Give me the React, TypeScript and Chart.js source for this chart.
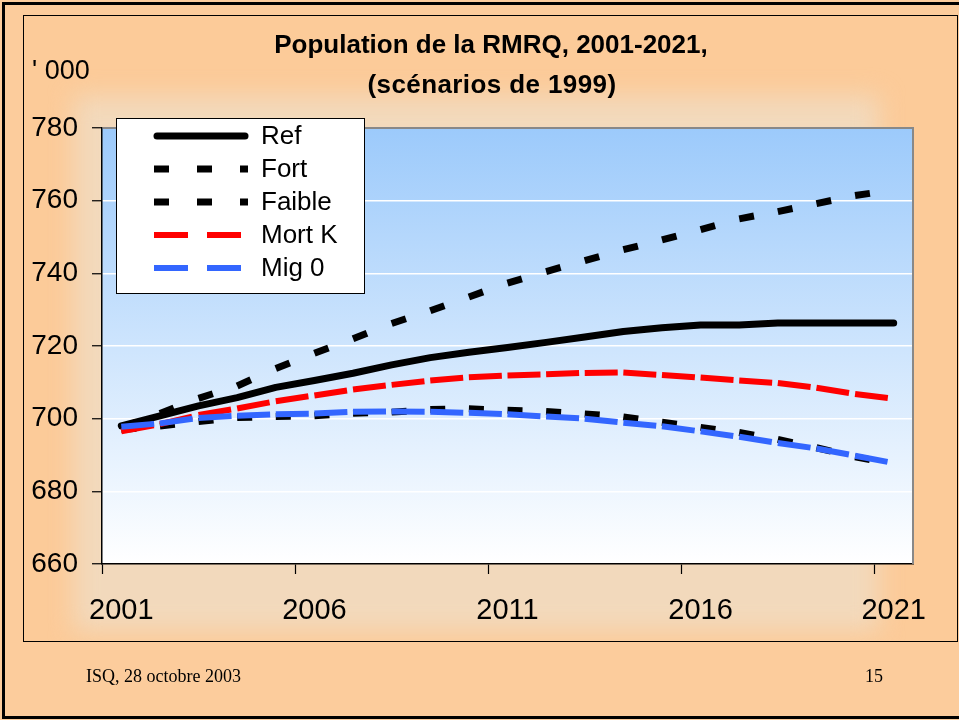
import React, { useEffect, useRef } from 'react';
import { Chart, registerables } from 'chart.js';

Chart.register(...registerables);

// ---------- data ----------
const years = [
  '2001', '2002', '2003', '2004', '2005', '2006', '2007', '2008', '2009', '2010', '2011',
  '2012', '2013', '2014', '2015', '2016', '2017', '2018', '2019', '2020', '2021',
];
const refValues = [698, 700.8, 703.5, 705.8, 708.6, 710.5, 712.5, 714.8, 716.8, 718.3, 719.6, 721, 722.5, 724, 725, 725.8, 725.8, 726.3, 726.3, 726.3, 726.3];
const fortValues = [697.5, 701.4, 705.6, 709.0, 713.8, 718.0, 722.0, 726.2, 729.7, 733.5, 737.3, 740.5, 743.5, 746.5, 749.2, 752.0, 755.0, 757.0, 759.2, 761.4, 763.0];
const faibleValues = [697.0, 698.0, 699.2, 700.3, 700.6, 700.8, 701.5, 701.8, 702.5, 702.7, 702.3, 702.0, 701.3, 700.5, 699.0, 697.6, 696.2, 694.3, 692.0, 689.5, 687.5];
const mortKValues = [696.5, 698.5, 701.0, 702.8, 704.8, 706.4, 708.0, 709.3, 710.5, 711.4, 711.9, 712.2, 712.6, 712.7, 712.0, 711.3, 710.5, 709.8, 708.5, 706.8, 705.5];
const mig0Values = [697.8, 698.7, 700.2, 700.8, 701.2, 701.4, 701.9, 702.0, 701.9, 701.6, 701.2, 700.6, 700.0, 698.9, 697.9, 696.5, 695.0, 693.3, 691.8, 689.8, 687.8];
const yMin = 660;
const yMax = 780;
const yStep = 20;
const xLabelEvery = 5;

const titleLines = ['Population de la RMRQ, 2001-2021,', '(scénarios de 1999)'];
const unitLabel = "' 000";
const footerLeft = 'ISQ, 28 octobre 2003';
const footerRight = '15';

const SANS = '"Liberation Sans", Arial, Helvetica, sans-serif';
const SERIF = '"Liberation Serif", "Times New Roman", Times, serif';

// each segment is stroked separately so the dash restarts at every point (as in Excel)
const perSegment = {
  borderDashOffset: (c: any) => (c.p0DataIndex % 2 ? 0 : 0.001),
};

const plotBackground = {
  id: 'plotBackground',
  beforeDraw(chart: any) {
    const { ctx, chartArea: a } = chart;
    const g = ctx.createLinearGradient(0, a.top, 0, a.bottom);
    g.addColorStop(0, '#9CCAFB');
    g.addColorStop(1, '#FFFFFF');
    ctx.save();
    ctx.fillStyle = g;
    ctx.fillRect(a.left, a.top, a.right - a.left, a.bottom - a.top);
    ctx.restore();
  },
  beforeDatasetsDraw(chart: any) {
    const { ctx, chartArea: a } = chart;
    ctx.save();
    ctx.strokeStyle = '#888888';
    ctx.lineWidth = 2;
    ctx.beginPath();
    ctx.moveTo(a.left + 1, a.top);
    ctx.lineTo(a.right, a.top);
    ctx.lineTo(a.right, a.bottom);
    ctx.stroke();
    ctx.restore();
  },
};

const boxLegend = {
  id: 'boxLegend',
  afterDraw(chart: any) {
    const { ctx } = chart;
    const x0 = 116.5;
    const y0 = 118.5;
    const w = 248;
    const h = 175;
    ctx.save();
    ctx.fillStyle = '#FFFFFF';
    ctx.fillRect(x0, y0, w, h);
    ctx.strokeStyle = '#000000';
    ctx.lineWidth = 1;
    ctx.strokeRect(x0, y0, w, h);
    chart.data.datasets.forEach((ds: any, i: number) => {
      const y = 136 + i * 33;
      ctx.save();
      ctx.strokeStyle = ds.borderColor;
      ctx.lineWidth = ds.legendWidth;
      ctx.lineCap = ds.legendDash.length ? 'butt' : 'round';
      ctx.setLineDash(ds.legendDash);
      ctx.beginPath();
      if (ds.legendDash.length) {
        ctx.moveTo(154, y);
        ctx.lineTo(248, y);
      } else {
        ctx.moveTo(157, y);
        ctx.lineTo(245, y);
      }
      ctx.stroke();
      ctx.restore();
      ctx.fillStyle = '#000000';
      ctx.font = `26px ${SANS}`;
      ctx.textBaseline = 'middle';
      ctx.textAlign = 'left';
      ctx.fillText(ds.label, 261, y + 1);
    });
    ctx.restore();
  },
};

export default function App() {
  const canvasRef = useRef<HTMLCanvasElement>(null);

  useEffect(() => {
    const canvas = canvasRef.current;
    if (!canvas) return;
    const chart = new Chart(canvas, {
      type: 'line',
      data: {
        labels: years,
        datasets: [
          {
            label: 'Ref',
            data: refValues,
            borderColor: '#000000',
            borderWidth: 7,
            borderCapStyle: 'round',
            borderJoinStyle: 'round',
            order: 5,
            legendDash: [],
            legendWidth: 7,
          } as any,
          {
            label: 'Fort',
            data: fortValues,
            borderColor: '#000000',
            borderWidth: 7,
            borderDash: [15, 60],
            segment: perSegment,
            order: 4,
            legendDash: [15, 28],
            legendWidth: 7,
          } as any,
          {
            label: 'Faible',
            data: faibleValues,
            borderColor: '#000000',
            borderWidth: 7,
            borderDash: [15, 60],
            segment: perSegment,
            order: 3,
            legendDash: [15, 28],
            legendWidth: 7,
          } as any,
          {
            label: 'Mort K',
            data: mortKValues,
            borderColor: '#FF0000',
            borderWidth: 6,
            borderDash: [33, 60],
            segment: perSegment,
            order: 2,
            legendDash: [34, 19],
            legendWidth: 6,
          } as any,
          {
            label: 'Mig 0',
            data: mig0Values,
            borderColor: '#3366FF',
            borderWidth: 6,
            borderDash: [33, 60],
            segment: perSegment,
            order: 1,
            legendDash: [34, 19],
            legendWidth: 6,
          } as any,
        ],
      },
      options: {
        responsive: false,
        animation: false,
        events: [],
        elements: {
          point: { radius: 0, hoverRadius: 0 },
          line: { tension: 0, fill: false },
        },
        layout: { padding: { left: 0, top: 128, right: 46, bottom: 76 } },
        plugins: {
          legend: { display: false },
          tooltip: { enabled: false },
          title: { display: false },
        },
        scales: {
          x: {
            type: 'category',
            offset: true,
            grid: {
              offset: true,
              drawOnChartArea: false,
              drawTicks: true,
              tickLength: 10,
              tickWidth: 1.2,
              tickColor: (c: any) =>
                c.index !== undefined && c.index % xLabelEvery === 0 ? '#000000' : 'rgba(0,0,0,0)',
            },
            border: { color: '#000000', width: 1.5 },
            ticks: {
              autoSkip: false,
              maxRotation: 0,
              minRotation: 0,
              color: '#000000',
              padding: 20,
              font: { family: SANS, size: 29 },
              callback: (_v: any, i: number) => (i % xLabelEvery === 0 ? years[i] : ''),
            },
            afterFit: (s: any) => {
              s.height = 80;
            },
          },
          y: {
            min: yMin,
            max: yMax,
            grid: {
              color: (c: any) =>
                c.tick && (c.tick.value === yMin || c.tick.value === yMax) ? 'rgba(0,0,0,0)' : '#FFFFFF',
              lineWidth: 1.5,
              tickColor: '#000000',
              tickLength: 10,
              tickWidth: 1.2,
            },
            border: { color: '#000000', width: 1.5 },
            ticks: {
              stepSize: yStep,
              color: '#000000',
              padding: 14,
              font: { family: SANS, size: 28 },
            },
            afterFit: (s: any) => {
              s.width = 102;
            },
          },
        },
      },
      plugins: [plotBackground, boxLegend],
    } as any);
    return () => chart.destroy();
  }, []);

  return (
    <div
      style={{
        position: 'fixed',
        left: 0,
        top: 0,
        width: 959,
        height: 720,
        overflow: 'hidden',
        background: '#FCCC9C',
      }}
    >
      {/* outer slide border */}
      <div
        style={{
          position: 'absolute',
          left: 2,
          top: 2,
          width: 962,
          height: 717,
          border: '3px solid #000',
          boxSizing: 'border-box',
        }}
      />
      {/* chart frame */}
      <div
        style={{
          position: 'absolute',
          left: 23,
          top: 15,
          width: 935,
          height: 627,
          border: '1.5px solid #000',
          boxSizing: 'border-box',
          background: '#FCCB99',
          overflow: 'hidden',
        }}
      >
        <div
          style={{
            position: 'absolute',
            left: 50,
            top: 80,
            width: 805,
            height: 535,
            background: '#F2D9BC',
            filter: 'blur(12px)',
          }}
        />
      </div>
      <canvas
        ref={canvasRef}
        width={959}
        height={720}
        style={{ position: 'absolute', left: 0, top: 0, width: 959, height: 720 }}
      />
      <div
        style={{
          position: 'absolute',
          left: 0,
          width: 982,
          top: 31,
          textAlign: 'center',
          fontFamily: SANS,
          fontWeight: 'bold',
          fontSize: 26,
          lineHeight: '26px',
          color: '#000',
          whiteSpace: 'nowrap',
        }}
      >
        {titleLines[0]}
      </div>
      <div
        style={{
          position: 'absolute',
          left: 0,
          width: 984,
          top: 71,
          textAlign: 'center',
          fontFamily: SANS,
          fontWeight: 'bold',
          fontSize: 26,
          lineHeight: '26px',
          letterSpacing: '0.4px',
          color: '#000',
          whiteSpace: 'nowrap',
        }}
      >
        {titleLines[1]}
      </div>
      <div
        style={{
          position: 'absolute',
          left: 32,
          top: 57,
          fontFamily: SANS,
          fontSize: 27,
          lineHeight: '27px',
          color: '#000',
          whiteSpace: 'pre',
        }}
      >
        {unitLabel}
      </div>
      <div
        style={{
          position: 'absolute',
          left: 86,
          top: 667,
          fontFamily: SERIF,
          fontSize: 18,
          lineHeight: '18px',
          color: '#000',
          whiteSpace: 'nowrap',
        }}
      >
        {footerLeft}
      </div>
      <div
        style={{
          position: 'absolute',
          left: 865,
          top: 667,
          fontFamily: SERIF,
          fontSize: 18,
          lineHeight: '18px',
          color: '#000',
        }}
      >
        {footerRight}
      </div>
    </div>
  );
}
